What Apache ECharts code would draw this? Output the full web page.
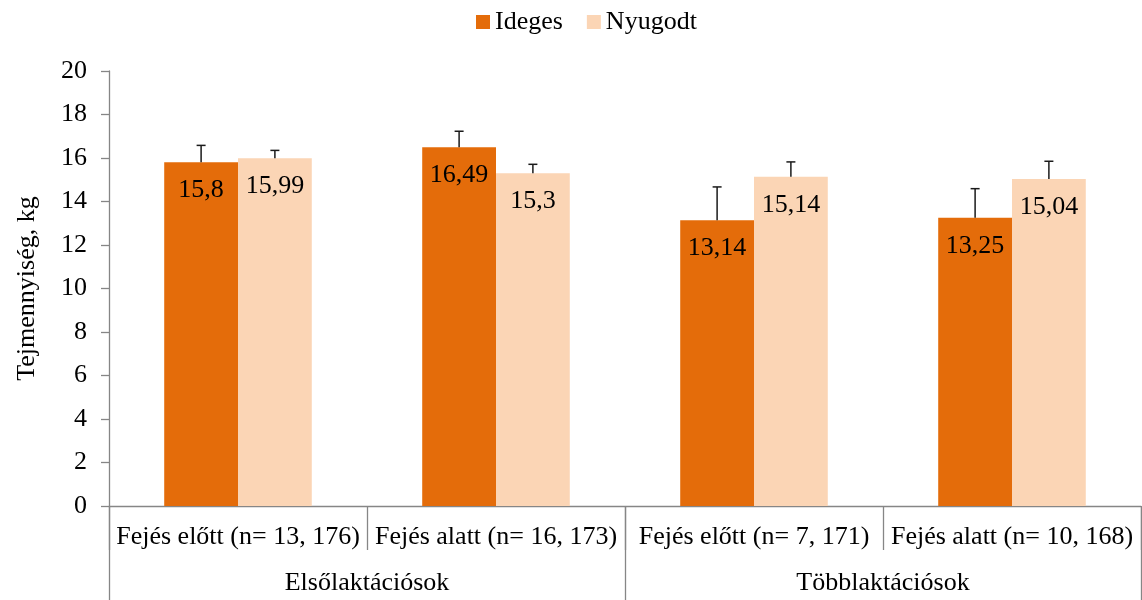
<!DOCTYPE html>
<html><head><meta charset="utf-8">
<script src="https://cdn.jsdelivr.net/npm/echarts@6/dist/echarts.min.js"></script>
<style>html,body{margin:0;padding:0;background:#fff}#c{width:1142px;height:600px}</style>
</head><body><div id="c"></div>
<script>
const categories = ['Fejés előtt (n= 13, 176)', 'Fejés alatt (n= 16, 173)', 'Fejés előtt (n= 7, 171)', 'Fejés alatt (n= 10, 168)'];
const groups = ['Elsőlaktációsok', 'Többlaktációsok'];
const seriesNames = ['Ideges', 'Nyugodt'];
const idegesValues = [15.8, 16.49, 13.14, 13.25];
const nyugodtValues = [15.99, 15.3, 15.14, 15.04];
const idegesErrors = [0.78, 0.74, 1.53, 1.34];
const nyugodtErrors = [0.36, 0.41, 0.68, 0.81];
const yTicks = [0, 2, 4, 6, 8, 10, 12, 14, 16, 18, 20];

const FONT = "'Liberation Serif', 'Times New Roman', serif";
const FS = 26;
const BAR_FRAC = 0.286;
const colors = ['#E46C0A', '#FBD5B5'];

function errSeries(values, errors, side) {
  return {
    type: 'custom',
    xAxisIndex: 0,
    z: 5,
    silent: true,
    data: values.map((v, i) => [i, v, errors[i]]),
    renderItem: function (params, api) {
      const idx = api.value(0);
      const v = api.value(1);
      const e = api.value(2);
      const band = api.size([1, 0])[0];
      const off = side * band * BAR_FRAC / 2;
      const p0 = api.coord([idx, v]);
      const p1 = api.coord([idx, v + e]);
      const x = p0[0] + off;
      const half = 4.5;
      const st = { stroke: '#1a1a1a', lineWidth: 1.5 };
      return {
        type: 'group',
        children: [
          { type: 'line', shape: { x1: x, y1: p0[1], x2: x, y2: p1[1] }, style: st },
          { type: 'line', shape: { x1: x - half, y1: p1[1], x2: x + half, y2: p1[1] }, style: st }
        ]
      };
    }
  };
}

const labelCfg = {
  show: true, position: 'insideTop', distance: 15,
  fontFamily: FONT, fontSize: FS, color: '#000',
  formatter: p => String(p.value).replace('.', ',')
};

const chart = echarts.init(document.getElementById('c'));
chart.setOption({
  animation: false,
  textStyle: { fontFamily: FONT },
  legend: {
    top: 4,
    left: 471,
    itemWidth: 14,
    itemHeight: 14,
    itemGap: 24,
    icon: 'rect',
    textStyle: { fontFamily: FONT, fontSize: FS, color: '#000' },
    data: seriesNames
  },
  grid: { left: 109, right: 1, top: 71, bottom: 94, containLabel: false },
  xAxis: [
    {
      type: 'category',
      data: categories,
      position: 'bottom',
      offset: 0,
      axisLine: { lineStyle: { color: '#868686', width: 1.3 } },
      axisTick: { show: true, length: 44, interval: 0, lineStyle: { color: '#868686', width: 1.3 } },
      axisLabel: { interval: 0, margin: 18, fontFamily: FONT, fontSize: FS, color: '#000' }
    },
    {
      type: 'category',
      data: groups,
      position: 'bottom',
      offset: 0,
      axisLine: { show: false },
      axisTick: { show: true, length: 100, interval: 0, lineStyle: { color: '#868686', width: 1.3 } },
      axisLabel: { interval: 0, margin: 64, fontFamily: FONT, fontSize: FS, color: '#000' }
    }
  ],
  yAxis: {
    type: 'value',
    min: yTicks[0],
    max: yTicks[yTicks.length - 1],
    interval: 2,
    name: 'Tejmennyiség, kg',
    nameLocation: 'middle',
    nameGap: 69,
    nameTextStyle: { fontFamily: FONT, fontSize: FS, color: '#000' },
    axisLine: { show: true, lineStyle: { color: '#868686', width: 1.3 } },
    axisTick: { show: true, length: 8, lineStyle: { color: '#868686', width: 1.3 } },
    splitLine: { show: false },
    axisLabel: { margin: 22, fontFamily: FONT, fontSize: FS, color: '#000' }
  },
  series: [
    {
      name: seriesNames[0],
      type: 'bar',
      xAxisIndex: 0,
      data: idegesValues,
      barWidth: (BAR_FRAC * 100) + '%',
      barGap: '0%',
      itemStyle: { color: colors[0] },
      label: labelCfg
    },
    {
      name: seriesNames[1],
      type: 'bar',
      xAxisIndex: 0,
      data: nyugodtValues,
      barWidth: (BAR_FRAC * 100) + '%',
      barGap: '0%',
      itemStyle: { color: colors[1] },
      label: labelCfg
    },
    errSeries(idegesValues, idegesErrors, -1),
    errSeries(nyugodtValues, nyugodtErrors, 1)
  ]
});
</script>
</body></html>
